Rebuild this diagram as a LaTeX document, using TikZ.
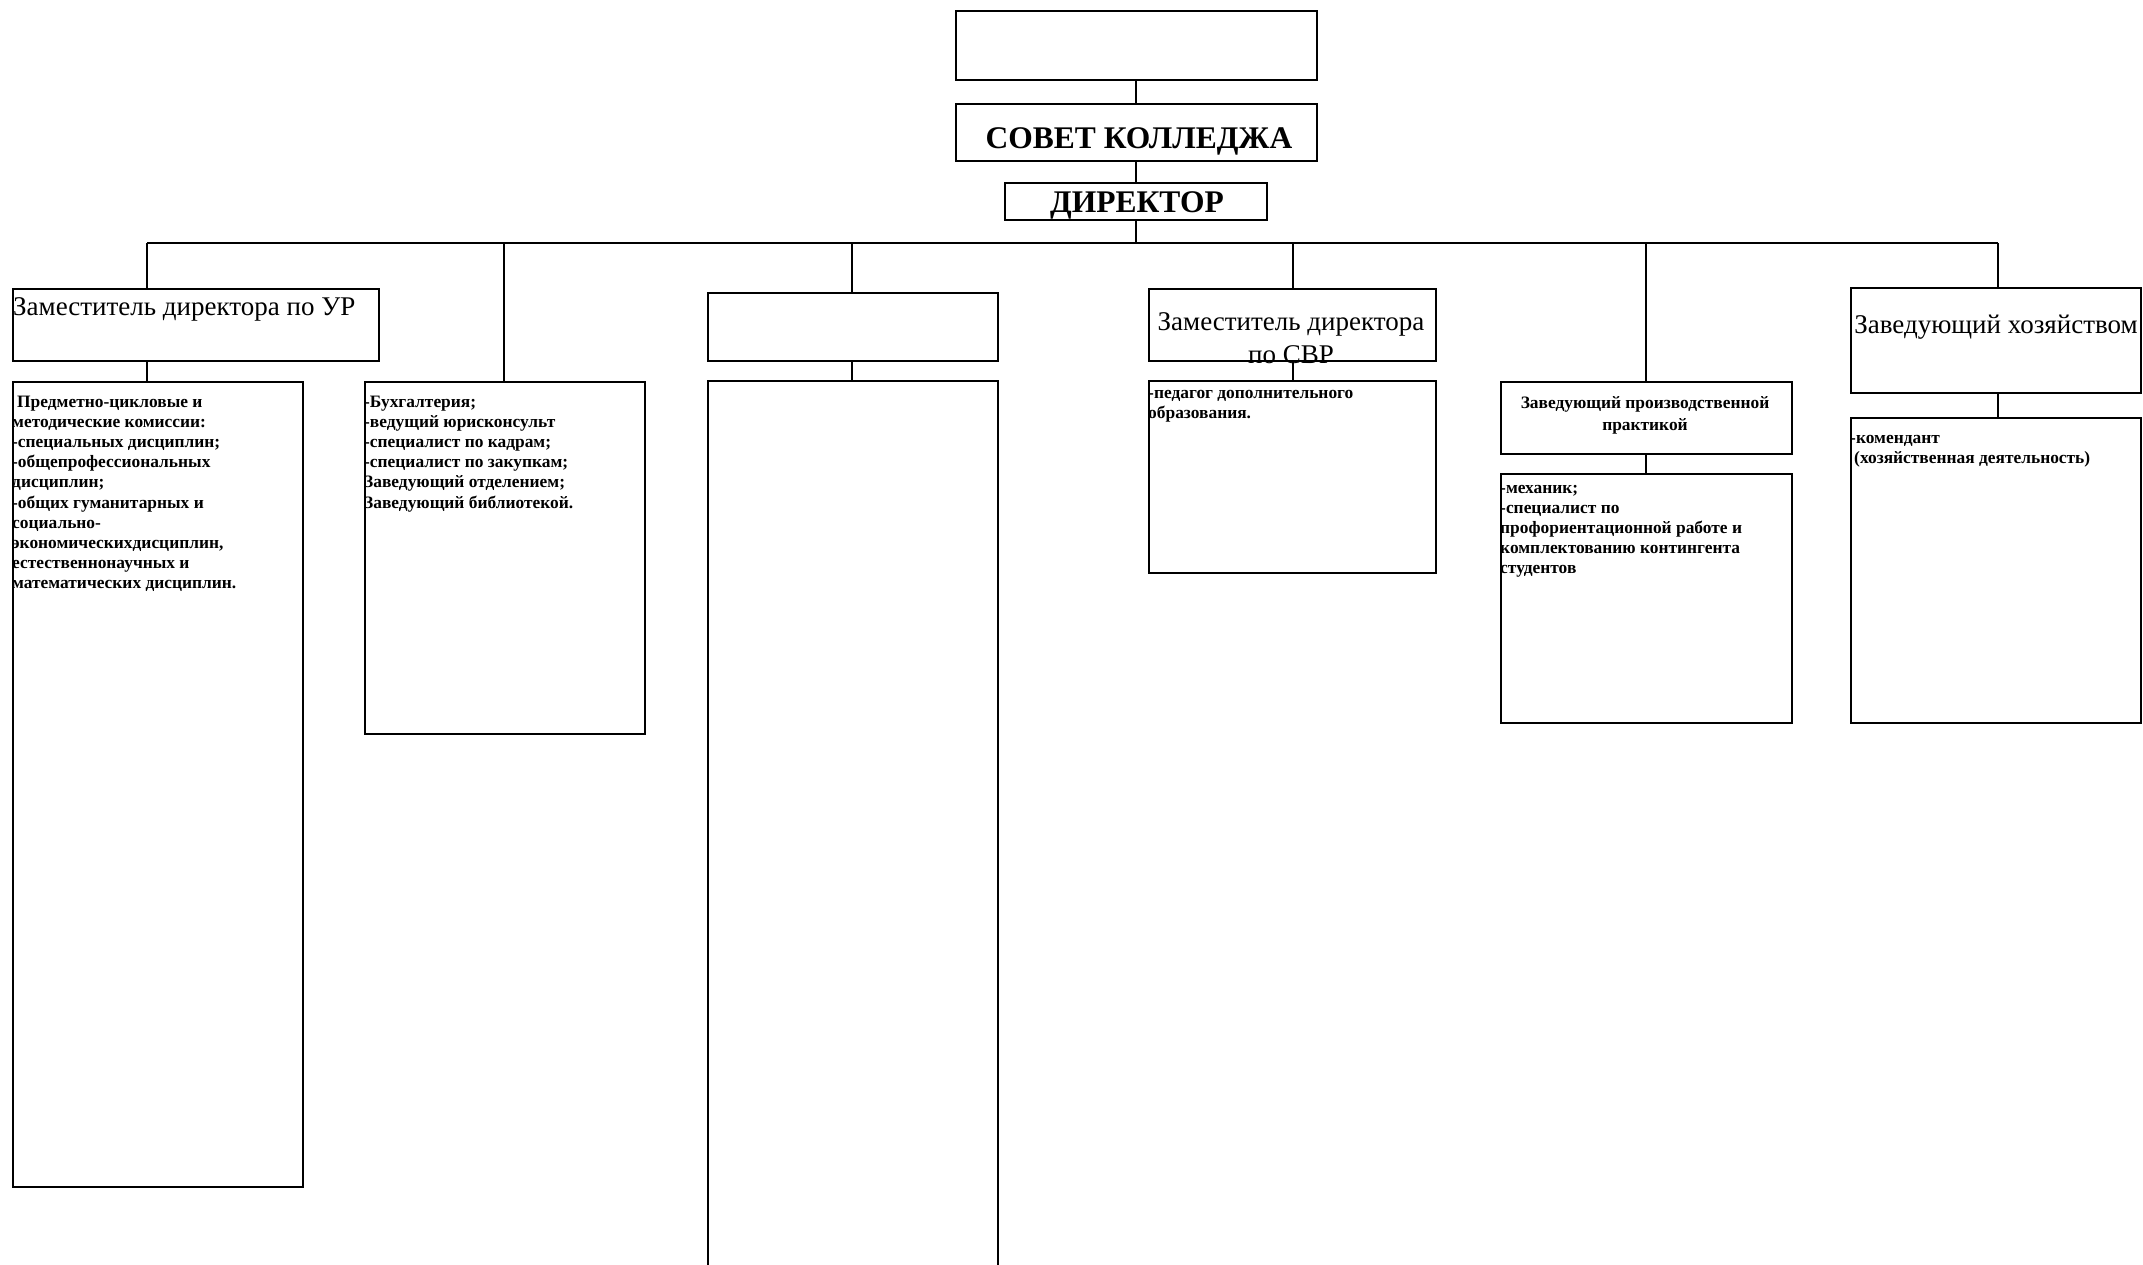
\documentclass[tikz,border=0pt]{standalone}
\usepackage{fontspec}
\setmainfont{Liberation Serif}
\begin{document}
\begin{tikzpicture}[x=1pt,y=-1pt,
  box/.style={draw,line width=2pt,rectangle,inner sep=0pt,anchor=north west},
  lnk/.style={line width=2pt},
  big/.style={font=\bfseries\fontsize{31.5}{36}\selectfont,inner sep=0pt,anchor=base},
  head/.style={font=\fontsize{27}{33}\selectfont,inner sep=0pt},
  small/.style={font=\bfseries\fontsize{17.4}{20.2}\selectfont,inner sep=0pt,anchor=base west}
]
\useasboundingbox (0,0) rectangle (2143,1265);
\newcommand{\bx}[5]{\node[box,minimum width=#4-#2,minimum height=#5-#3] (#1) at (#2,#3) {};}
% boxes
\bx{top}{955}{10}{1316}{79}
\bx{sovet}{955}{103}{1316}{160}
\bx{dir}{1004}{182}{1266}{219}
\bx{ur}{12}{288}{378}{360}
\bx{urb}{12}{381}{302}{1186}
\bx{buh}{364}{381}{644}{733}
\bx{cthree}{707}{292}{997}{360}
\bx{cthreeb}{707}{380}{997}{1290}
\bx{svr}{1148}{288}{1435}{360}
\bx{svrb}{1148}{380}{1435}{572}
\bx{prac}{1500}{381}{1791}{453}
\bx{pracb}{1500}{473}{1791}{722}
\bx{hoz}{1850}{287}{2140}{392}
\bx{hozb}{1850}{417}{2140}{722}
% bus coordinates
\coordinate (bc) at (1136,243);
\coordinate (b1) at (147,243);
\coordinate (b2) at (504,243);
\coordinate (b3) at (852,243);
\coordinate (b4) at (1293,243);
\coordinate (b5) at (1646,243);
\coordinate (b6) at (1998,243);
% connectors
\draw[lnk] (top.south -| bc) -- (sovet.north -| bc);
\draw[lnk] (sovet.south -| bc) -- (dir.north -| bc);
\draw[lnk] (dir.south -| bc) -- (bc);
\draw[lnk] (b1) -- (b6);
\draw[lnk] (b1) -- (ur.north -| b1);
\draw[lnk] (ur.south -| b1) -- (urb.north -| b1);
\draw[lnk] (b2) -- (buh.north -| b2);
\draw[lnk] (b3) -- (cthree.north -| b3);
\draw[lnk] (cthree.south -| b3) -- (cthreeb.north -| b3);
\draw[lnk] (b4) -- (svr.north -| b4);
\draw[lnk] (svr.south -| b4) -- (svrb.north -| b4);
\draw[lnk] (b5) -- (prac.north -| b5);
\draw[lnk] (prac.south -| b5) -- (pracb.north -| b5);
\draw[lnk] (b6) -- (hoz.north -| b6);
\draw[lnk] (hoz.south -| b6) -- (hozb.north -| b6);
% texts
\node[big] (tsovet) at (1139,149) {СОВЕТ КОЛЛЕДЖА};
\node[big] (tdir) at (1137,213) {ДИРЕКТОР};
\node[head,anchor=base west] (tur) at (13,315) {Заместитель директора по УР};
\node[head,anchor=base] (tsvr1) at (1291,330) {Заместитель директора};
\node[head,anchor=base] (tsvr2) at (1291,363) {по СВР};
\node[head,anchor=base] (thoz) at (1996,333) {Заведующий хозяйством};
\node[small] (turb) at (12,407) {\parbox[t]{300pt}{\hspace*{5pt}Предметно-цикловые и\\
методические комиссии:\\
-специальных дисциплин;\\
-общепрофессиональных\\
дисциплин;\\
-общих гуманитарных и\\
социально-\\
экономическихдисциплин,\\
естественнонаучных и\\
математических дисциплин.}};
\node[small] (tbuh) at (364,407) {\parbox[t]{300pt}{-Бухгалтерия;\\
-ведущий юрисконсульт\\
-специалист по кадрам;\\
-специалист по закупкам;\\
Заведующий отделением;\\
Заведующий библиотекой.}};
\node[small] (tsvrb) at (1148,398) {\parbox[t]{300pt}{-педагог дополнительного\\
образования.}};
\node[small,anchor=base] (tprac1) at (1645,408) {Заведующий производственной};
\node[small,anchor=base] (tprac2) at (1645,430) {практикой};
\node[small] (tpracb) at (1500,493) {\parbox[t]{300pt}{-механик;\\
-специалист по\\
профориентационной работе и\\
комплектованию контингента\\
студентов}};
\node[small] (thozb) at (1850,443) {\parbox[t]{300pt}{-комендант\\
\hspace*{4pt}(хозяйственная деятельность)}};
\end{tikzpicture}
\end{document}
